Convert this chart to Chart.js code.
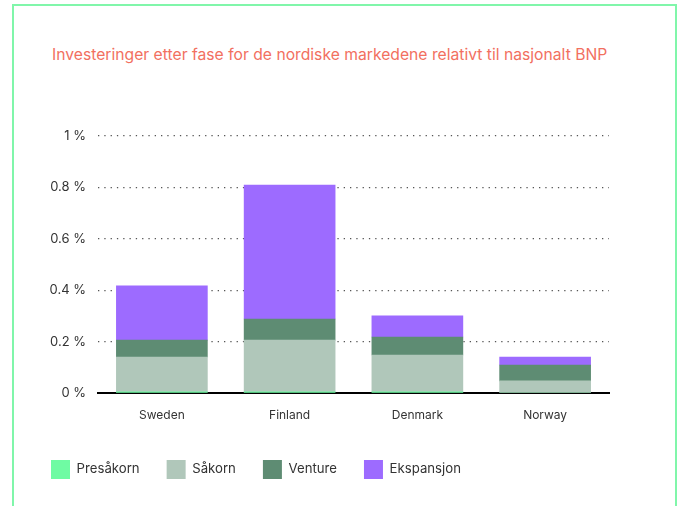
<!DOCTYPE html>
<html>
<head>
<meta charset="utf-8">
<script src="https://cdn.jsdelivr.net/npm/chart.js@4"></script>
<style>
  html, body { margin: 0; padding: 0; background: #fff; }
  body { width: 681px; height: 506px; position: relative; overflow: hidden; font-family: Inter, "Noto Sans", sans-serif; }
  #frame { position: absolute; left: 12px; top: 4px; width: 665px; height: 540px; border: 2px solid #80F6AA; box-sizing: border-box; }
  #title { position: absolute; left: 52px; top: 45px; font-size: 15.7px; color: #F2705F; white-space: nowrap; letter-spacing: 0; }
  #wrap { position: absolute; left: 0; top: 0; width: 681px; height: 506px; }
</style>
</head>
<body>
<div id="frame"></div>
<div id="title">Investeringer etter fase for de nordiske markedene relativt til nasjonalt BNP</div>
<div id="wrap"><canvas id="c" width="681" height="506"></canvas></div>
<script>
const categories = ['Sweden', 'Finland', 'Denmark', 'Norway'];
const seriesNames = ['Presåkorn', 'Såkorn', 'Venture', 'Ekspansjon'];
const presakorn = [0.005, 0.005, 0.005, 0.0];
const sakorn = [0.135, 0.201, 0.143, 0.047];
const venture = [0.066, 0.082, 0.070, 0.062];
const ekspansjon = [0.211, 0.521, 0.082, 0.031];
const yTicks = [0, 0.2, 0.4, 0.6, 0.8, 1];
const colors = ['#6FFBA3', '#B0C7BA', '#5E8C73', '#9D6BFF'];

const seriesValues = [presakorn, sakorn, venture, ekspansjon];
const datasets = seriesNames.map((name, i) => ({
  label: name,
  data: seriesValues[i],
  backgroundColor: colors[i],
  borderWidth: 0,
  barThickness: 91,
  stack: 's'
}));

new Chart(document.getElementById('c'), {
  type: 'bar',
  data: { labels: categories, datasets },
  options: {
    responsive: false,
    animation: false,
    devicePixelRatio: 1,
    layout: { padding: { left: 24, right: 72, top: 136, bottom: 17 } },
    plugins: {
      title: { display: false },
      tooltip: { enabled: false },
      legend: {
        position: 'bottom',
        align: 'start',
        labels: {
          boxWidth: 19,
          boxHeight: 19,
          padding: 27,
          color: '#333',
          font: { family: 'Inter, "Noto Sans", sans-serif', size: 13.2 }
        }
      }
    },
    scales: {
      x: {
        stacked: true,
        grid: { display: false, drawTicks: false },
        border: { display: true, color: '#000', width: 2 },
        ticks: { color: '#333', padding: 15, font: { family: 'Inter, "Noto Sans", sans-serif', size: 12 } },
        afterFit: (s) => { s.height = 40; }
      },
      y: {
        stacked: true,
        min: 0,
        max: 1,
        afterBuildTicks: (s) => { s.ticks = yTicks.map(v => ({ value: v })); },
        grid: { color: '#555', lineWidth: 1.3, drawTicks: false },
        border: { display: false, dash: [1.3, 5] },
        ticks: {
          color: '#333',
          padding: 12,
          font: { family: 'Inter, "Noto Sans", sans-serif', size: 13 },
          callback: (v) => Number(v.toFixed(1)) + ' %'
        },
        afterFit: (s) => { s.width = 74; }
      }
    }
  }
});
</script>
</body>
</html>
